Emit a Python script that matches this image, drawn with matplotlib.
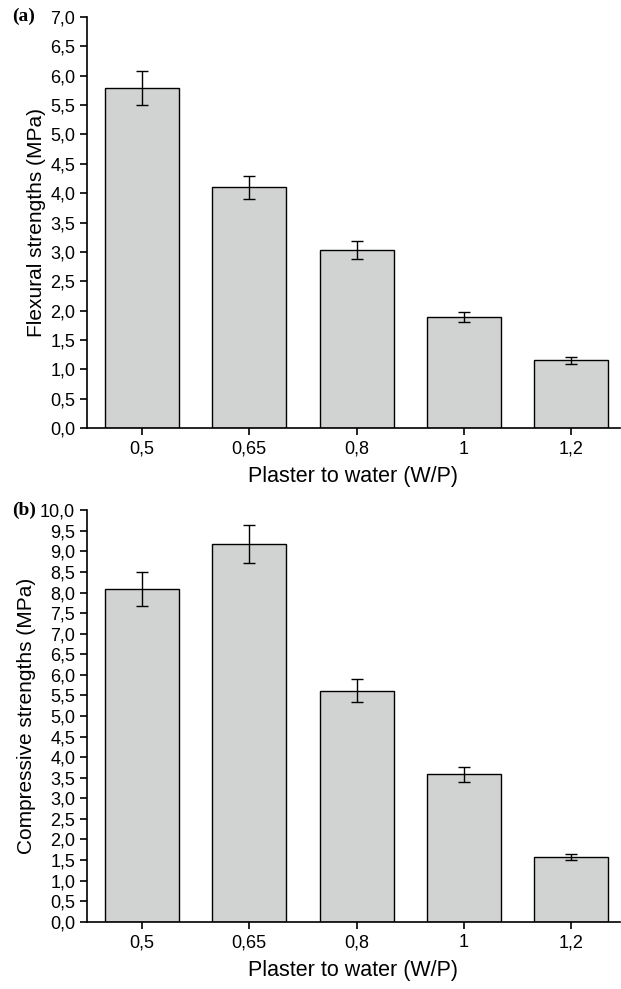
import matplotlib

matplotlib.use("Agg")
import matplotlib.pyplot as plt
import numpy as np
from matplotlib.ticker import FuncFormatter, MultipleLocator

plt.rcParams["font.family"] = ["Liberation Sans", "DejaVu Sans"]

# W/P ratios (category labels)
ratios = ["0,5", "0,65", "0,8", "1", "1,2"]

# (a) flexural strengths, MPa
flexural = [5.79, 4.10, 3.03, 1.89, 1.16]
flexural_err = [0.29, 0.20, 0.155, 0.09, 0.06]

# (b) compressive strengths, MPa
compressive = [8.09, 9.18, 5.62, 3.58, 1.57]
compressive_err = [0.41, 0.46, 0.28, 0.18, 0.07]

BAR_COLOR = "#d1d2d2"


def comma_fmt(value, _pos):
    return f"{value:.1f}".replace(".", ",")


def draw_panel(ax, values, errors, ymax, ylabel, tag):
    x = np.arange(len(ratios))
    ax.bar(x, values, width=0.69, color=BAR_COLOR, edgecolor="black", linewidth=1.0, zorder=2)
    ax.errorbar(x, values, yerr=errors, fmt="none", ecolor="black", elinewidth=1.0, capsize=4, capthick=1.0, zorder=3)
    ax.set_xlim(-0.51, 4.45)
    ax.set_ylim(0, ymax)
    ax.set_xticks(x)
    ax.set_xticklabels(ratios)
    ax.yaxis.set_major_locator(MultipleLocator(0.5))
    ax.yaxis.set_major_formatter(FuncFormatter(comma_fmt))
    ax.spines["top"].set_visible(False)
    ax.spines["right"].set_visible(False)
    ax.spines["left"].set_linewidth(1.2)
    ax.spines["bottom"].set_linewidth(1.2)
    ax.tick_params(direction="out", length=5, width=1.2, labelsize=13)
    ax.tick_params(axis="x", pad=4)
    ax.set_xlabel("Plaster to water (W/P)", fontsize=15.5, labelpad=6)
    ax.set_ylabel(ylabel, fontsize=15, labelpad=3)
    ax.text(-0.14, 1.0, tag, transform=ax.transAxes, fontsize=14, fontweight="bold",
            family=["Liberation Serif", "DejaVu Serif"], ha="left", va="center")


fig = plt.figure(figsize=(6.21, 9.89), dpi=100)
ax_a = fig.add_axes([0.140, 0.567, 0.858, 0.416])
ax_b = fig.add_axes([0.140, 0.068, 0.858, 0.416])

draw_panel(ax_a, flexural, flexural_err, 7.0, "Flexural strengths (MPa)", "(a)")
draw_panel(ax_b, compressive, compressive_err, 10.0, "Compressive strengths (MPa)", "(b)")

fig.savefig("out.png", dpi=100)
